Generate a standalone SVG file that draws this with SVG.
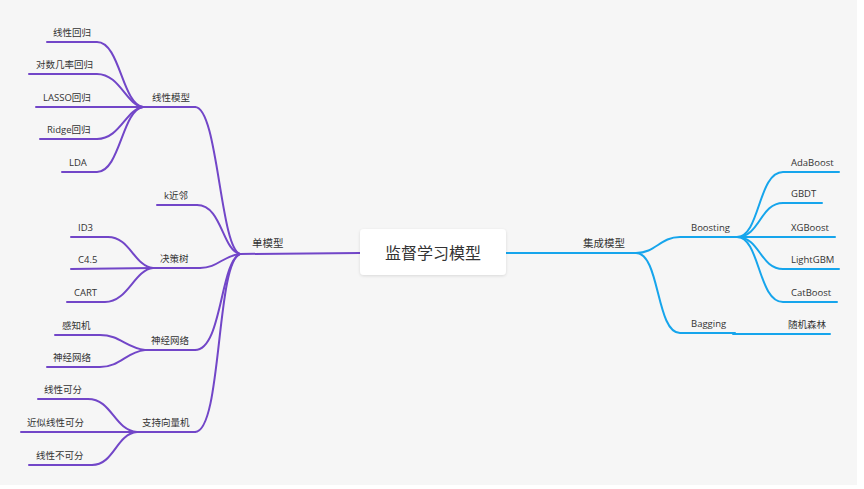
<svg xmlns="http://www.w3.org/2000/svg" width="864" height="489" viewBox="0 0 864 489">
<defs>
<filter id="sh" x="-10%" y="-20%" width="120%" height="150%"><feDropShadow dx="0" dy="1" stdDeviation="1.5" flood-color="#000" flood-opacity="0.12"/></filter>
<style>
.p{fill:none;stroke:#7246c8;stroke-width:2;stroke-linecap:round}
.b{fill:none;stroke:#16a5ec;stroke-width:2;stroke-linecap:round}
text{font-family:"Open Sans","Noto Sans CJK SC",sans-serif;fill:#333}
.l{font-size:9.5px}
.m{font-size:10.5px}
.r{font-size:16px}
</style>
</defs>
<rect x="0" y="0" width="864" height="489" fill="#fff"/>
<rect x="0" y="0" width="857" height="485" fill="#f6f6f6"/>
<g id="connectors">
<path class="p" d="M360,253 L240,254"/>
<path class="p" d="M195,107 C218,107 220,248 240,254"/>
<path class="p" d="M197,205 C222,205 222,250 240,254"/>
<path class="p" d="M200,268 C218,268 222,256 240,254"/>
<path class="p" d="M195,350 C222,350 220,262 240,254"/>
<path class="p" d="M195,432 C222,432 216,262 240,254"/>
<path class="p" d="M143,107 L195,107"/>
<path class="p" d="M157,205 L197,205"/>
<path class="p" d="M153,268 L200,268"/>
<path class="p" d="M145,350 L195,350"/>
<path class="p" d="M137,432 L195,432"/>
<path class="p" d="M47,42 L97,42 C120,42 122,104 143,107"/>
<path class="p" d="M29,74 L97,74 C120,74 126,105 143,107"/>
<path class="p" d="M36,107 L143,107"/>
<path class="p" d="M40,139 L97,139 C120,139 126,109 143,107"/>
<path class="p" d="M62,172 L97,172 C120,172 122,110 143,107"/>
<path class="p" d="M71,237 L108,237 C130,237 134,266 153,268"/>
<path class="p" d="M71,269 L153,268"/>
<path class="p" d="M67,302 L105,302 C128,302 134,270 153,268"/>
<path class="p" d="M55,335 L100,335 C120,335 126,348 145,350"/>
<path class="p" d="M47,367 L100,367 C120,367 126,352 145,350"/>
<path class="p" d="M38,399 L88,399 C112,399 114,430 137,432"/>
<path class="p" d="M21,432 L137,432"/>
<path class="p" d="M29,465 L92,465 C114,465 116,434 137,432"/>
<path class="b" d="M506,253 L636,253"/>
<path class="b" d="M636,253 C656,253 660,237 680,237 L737,237"/>
<path class="b" d="M636,253 C660,253 656,333 680,333 L735,333"/>
<path class="b" d="M737,237 C760,237 758,172 783,172 L839,172"/>
<path class="b" d="M737,237 C760,237 760,203 783,203 L822,203"/>
<path class="b" d="M737,237 L835,237"/>
<path class="b" d="M737,237 C760,237 760,269 783,269 L839,269"/>
<path class="b" d="M737,237 C760,237 758,302 783,302 L837,302"/>
<path class="b" d="M733,334 L830,334"/>
</g>
<g id="root"><rect x="360" y="229" width="146" height="46" rx="4" fill="#fff" filter="url(#sh)"/><text class="r" x="433" y="259" text-anchor="middle">监督学习模型</text></g>
<g id="n-single"><text class="m" x="252" y="247">单模型</text></g>
<g id="n-ensemble"><text class="m" x="583" y="247">集成模型</text></g>
<g id="n-linear"><text class="l" x="152" y="101">线性模型</text></g>
<g id="n-knn"><text class="l" x="164" y="199">k近邻</text></g>
<g id="n-tree"><text class="l" x="160" y="262">决策树</text></g>
<g id="n-nn"><text class="l" x="151" y="344">神经网络</text></g>
<g id="n-svm"><text class="l" x="142" y="426">支持向量机</text></g>
<g id="n-lr"><text class="l" x="53" y="36">线性回归</text></g>
<g id="n-logit"><text class="l" x="36" y="68">对数几率回归</text></g>
<g id="n-lasso"><text class="l" x="43" y="101">LASSO回归</text></g>
<g id="n-ridge"><text class="l" x="47" y="133">Ridge回归</text></g>
<g id="n-lda"><text class="l" x="69" y="166">LDA</text></g>
<g id="n-id3"><text class="l" x="78" y="231">ID3</text></g>
<g id="n-c45"><text class="l" x="78" y="263">C4.5</text></g>
<g id="n-cart"><text class="l" x="74" y="296">CART</text></g>
<g id="n-perc"><text class="l" x="62" y="329">感知机</text></g>
<g id="n-nn2"><text class="l" x="53" y="361">神经网络</text></g>
<g id="n-ls"><text class="l" x="44" y="393">线性可分</text></g>
<g id="n-als"><text class="l" x="27" y="426">近似线性可分</text></g>
<g id="n-nls"><text class="l" x="36" y="459">线性不可分</text></g>
<g id="n-boosting"><text class="l" x="691" y="231">Boosting</text></g>
<g id="n-bagging"><text class="l" x="691" y="327">Bagging</text></g>
<g id="n-ada"><text class="l" x="791" y="166">AdaBoost</text></g>
<g id="n-gbdt"><text class="l" x="791" y="197">GBDT</text></g>
<g id="n-xgb"><text class="l" x="791" y="231">XGBoost</text></g>
<g id="n-lgbm"><text class="l" x="791" y="263">LightGBM</text></g>
<g id="n-cat"><text class="l" x="791" y="296">CatBoost</text></g>
<g id="n-rf"><text class="l" x="788" y="328">随机森林</text></g>
</svg>
